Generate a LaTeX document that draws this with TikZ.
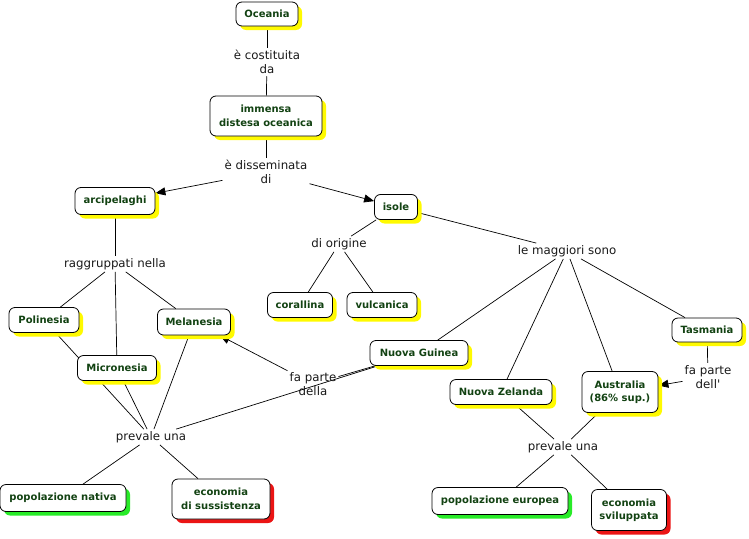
\documentclass[tikz,border=0pt]{standalone}
\usepackage{fontspec}
\setmainfont{DejaVu Sans}
\font\plainquotefont="DejaVu Sans" at 11.8pt
\usetikzlibrary{arrows.meta,shadows}
\pgfdeclarelayer{background}
\pgfsetlayers{background,main}
\definecolor{nodetext}{RGB}{18,66,18}
\definecolor{shy}{RGB}{255,250,0}
\definecolor{shg}{RGB}{40,235,40}
\definecolor{shr}{RGB}{235,20,20}
\tikzset{
  concept/.style={draw=black, line width=0.8pt, fill=white, rounded corners=6pt,
    font=\fontsize{10}{13.5}\selectfont\bfseries, text=nodetext, align=center,
    inner xsep=4pt, inner ysep=3pt,
    drop shadow={shadow xshift=4pt, shadow yshift=-4pt, fill=#1, opacity=1}},
  concept/.default=shy,
  lbl/.style={font=\fontsize{11.8}{14.5}\selectfont, text=black!90, align=center, inner sep=2pt},
  link/.style={draw=black, line width=0.7pt},
  arr/.style={link, -{Triangle[length=10pt,width=8pt]}}
}
\begin{document}
\begin{tikzpicture}[x=1pt,y=-1pt]
\useasboundingbox (0,0) rectangle (749,538);
% concepts
\node[concept, minimum width=62pt, minimum height=24pt] (oce) at (267,14) {Oceania};
\node[concept, minimum width=112pt, minimum height=40pt] (imm) at (266,116) {immensa\\distesa oceanica};
\node[concept, minimum width=80pt, minimum height=27pt] (arc) at (115,201) {arcipelaghi};
\node[concept, minimum width=43pt, minimum height=25pt] (iso) at (396,207) {isole};
\node[concept, minimum width=65pt, minimum height=25pt] (cor) at (300,305) {corallina};
\node[concept, minimum width=70pt, minimum height=25pt] (vul) at (382,305) {vulcanica};
\node[concept, minimum width=70pt, minimum height=25pt] (pol) at (44,320) {Polinesia};
\node[concept, minimum width=73pt, minimum height=26pt] (mel) at (194,322) {Melanesia};
\node[concept, minimum width=79pt, minimum height=25pt] (mic) at (117,368) {Micronesia};
\node[concept, minimum width=98pt, minimum height=25pt] (ngu) at (419,353) {Nuova Guinea};
\node[concept, minimum width=102pt, minimum height=25pt] (nze) at (501,392) {Nuova Zelanda};
\node[concept, minimum width=76pt, minimum height=41pt] (aus) at (620,392) {Australia\\(86\% sup.)};
\node[concept, minimum width=70pt, minimum height=24pt] (tas) at (707,330) {Tasmania};
\node[concept=shg, minimum width=126pt, minimum height=27pt] (pna) at (63,498) {popolazione nativa};
\node[concept=shr, minimum width=98pt, minimum height=40pt] (esu) at (221,499) {economia\\di sussistenza};
\node[concept=shg, minimum width=136pt, minimum height=27pt] (peu) at (500,501) {popolazione europea};
\node[concept=shr, minimum width=75pt, minimum height=41pt] (esv) at (629,510) {economia\\sviluppata};
% link labels
\node[lbl] (l1) at (267,62) {è costituita\\da};
\node[lbl] (l2) at (266,172) {è disseminata\\di};
\node[lbl] (l3) at (115,264) {raggruppati nella};
\node[lbl] (l4) at (339,244) {di origine};
\node[lbl] (l5) at (567,251) {le maggiori sono};
\node[lbl] (l6) at (313,384) {fa parte\\della};
\node[lbl] (l7) at (151,437) {prevale una};
\node[lbl] (l8) at (563,447) {prevale una};
\node[lbl] (l9) at (708,377) {fa parte\\{\plainquotefont dell'}};
% connectors
\begin{pgfonlayer}{background}
\draw[link] (oce) -- (l1);
\draw[link] (l1) -- (imm);
\draw[link] (imm) -- (l2);
\draw[arr] (l2) -- (arc);
\draw[arr] (l2) -- (iso);
\draw[link] (arc) -- (l3);
\draw[link] (l3) -- (pol);
\draw[link] (l3) -- (mic);
\draw[link] (l3) -- (mel);
\draw[link] (iso) -- (l4);
\draw[link] (l4) -- (cor);
\draw[link] (l4) -- (vul);
\draw[link] (iso) -- (l5);
\draw[link] (l5) -- (ngu);
\draw[link] (l5) -- (nze);
\draw[link] (l5) -- (aus);
\draw[link] (l5) -- (tas);
\draw[link] (pol) -- (l7);
\draw[link] (mic) -- (l7);
\draw[link] (mel) -- (l7);
\draw[link] (ngu) -- (l7);
\draw[link] (ngu) -- (l6);
\draw[arr] (l6) -- (mel);
\draw[link] (l7) -- (pna);
\draw[link] (l7) -- (esu);
\draw[link] (nze) -- (l8);
\draw[link] (aus) -- (l8);
\draw[link] (l8) -- (peu);
\draw[link] (l8) -- (esv);
\draw[link] (tas) -- (l9);
\draw[arr] (l9) -- (aus);
\end{pgfonlayer}
\end{tikzpicture}
\end{document}
